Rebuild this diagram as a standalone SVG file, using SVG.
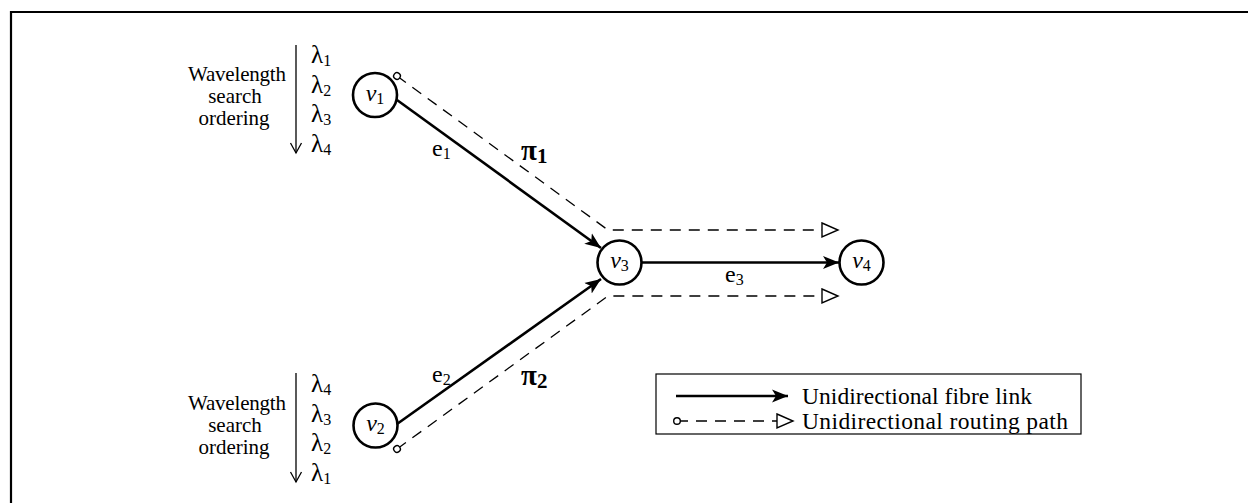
<svg xmlns="http://www.w3.org/2000/svg" width="1248" height="503" viewBox="0 0 1248 503">
  <style>
    text { font-family: "Liberation Serif", "Times New Roman", serif; fill: #000; }
    .node { fill: #fff; stroke: #000; stroke-width: 2.6; }
    .lbl { font-size: 24px; }
    .sub { font-size: 16px; }
    .lam { font-size: 25px; }
    .wl { font-size: 21px; text-anchor: middle; }
    .edge { fill: none; stroke: #000; stroke-width: 2.6; }
    .route { fill: none; stroke: #000; stroke-width: 1.3; stroke-dasharray: 11 8; }
    .order { fill: none; stroke: #000; stroke-width: 1.3; }
    .pi { font-size: 29px; font-weight: bold; }
    .leg { font-size: 23.5px; }
  </style>
  <defs>
    <marker id="arr" markerUnits="userSpaceOnUse" markerWidth="18" markerHeight="14" refX="16" refY="7" orient="auto">
      <path d="M0,0.5 L16,7 L0,13.5 L4,7 Z" fill="#000"/>
    </marker>
    <marker id="tri" markerUnits="userSpaceOnUse" markerWidth="20" markerHeight="18" refX="1" refY="8" orient="auto">
      <path d="M1,1 L17,8 L1,15 Z" fill="#fff" stroke="#000" stroke-width="1.4"/>
    </marker>
    <marker id="dot" markerUnits="userSpaceOnUse" markerWidth="10" markerHeight="10" refX="5" refY="5" orient="auto">
      <circle cx="5" cy="5" r="3.3" fill="#fff" stroke="#000" stroke-width="1.4"/>
    </marker>
    <marker id="chev" markerUnits="userSpaceOnUse" markerWidth="14" markerHeight="14" refX="11" refY="7" orient="auto">
      <path d="M1,1.5 L11,7 L1,12.5" fill="none" stroke="#000" stroke-width="1.3"/>
    </marker>
  </defs>

  <!-- frame -->
  <path d="M11,503 L11,12 L1248,12" fill="none" stroke="#000" stroke-width="2.2"/>

  <!-- wavelength ordering (top) -->
  <g id="order-top">
    <line class="order" x1="296" y1="45" x2="296" y2="153" marker-end="url(#chev)"/>
    <text class="wl" x="237" y="81" textLength="98">Wavelength</text>
    <text class="wl" x="235" y="103">search</text>
    <text class="wl" x="234" y="125">ordering</text>
    <text class="lam" x="311" y="63">λ<tspan class="sub" dy="3">1</tspan></text>
    <text class="lam" x="311" y="93">λ<tspan class="sub" dy="3">2</tspan></text>
    <text class="lam" x="311" y="122">λ<tspan class="sub" dy="3">3</tspan></text>
    <text class="lam" x="311" y="152">λ<tspan class="sub" dy="3">4</tspan></text>
  </g>

  <!-- wavelength ordering (bottom) -->
  <g id="order-bottom">
    <line class="order" x1="296" y1="373" x2="296" y2="482" marker-end="url(#chev)"/>
    <text class="wl" x="237" y="410" textLength="98">Wavelength</text>
    <text class="wl" x="235" y="432">search</text>
    <text class="wl" x="234" y="454">ordering</text>
    <text class="lam" x="311" y="392">λ<tspan class="sub" dy="3">4</tspan></text>
    <text class="lam" x="311" y="422">λ<tspan class="sub" dy="3">3</tspan></text>
    <text class="lam" x="311" y="451">λ<tspan class="sub" dy="3">2</tspan></text>
    <text class="lam" x="311" y="481">λ<tspan class="sub" dy="3">1</tspan></text>
  </g>

  <!-- connectors -->
  <g id="connectors">
    <line class="edge" x1="397" y1="100" x2="601" y2="248" marker-end="url(#arr)"/>
    <line class="edge" x1="397" y1="424" x2="601" y2="279" marker-end="url(#arr)"/>
    <line class="edge" x1="642" y1="262.5" x2="839" y2="262.5" marker-end="url(#arr)"/>
    <path class="route" d="M397,76 L608,230 L822,230" marker-start="url(#dot)" marker-end="url(#tri)"/>
    <path class="route" d="M397,449 L608,296 L822,296" marker-start="url(#dot)" marker-end="url(#tri)"/>
    <text class="lbl" x="432" y="156">e<tspan class="sub" dy="3">1</tspan></text>
    <text class="lbl" x="432" y="382">e<tspan class="sub" dy="3">2</tspan></text>
    <text class="lbl" x="725" y="282">e<tspan class="sub" dy="3">3</tspan></text>
    <text class="pi" x="521" y="160">π<tspan font-size="21" dy="3">1</tspan></text>
    <text class="pi" x="521" y="385">π<tspan font-size="21" dy="3">2</tspan></text>
  </g>

  <!-- nodes -->
  <g id="v1">
    <circle class="node" cx="375" cy="95" r="22"/>
    <text class="lbl" x="375" y="101" text-anchor="middle"><tspan font-style="italic">v</tspan><tspan class="sub" dy="3">1</tspan></text>
  </g>
  <g id="v2">
    <circle class="node" cx="375.5" cy="425.5" r="22"/>
    <text class="lbl" x="375.5" y="431" text-anchor="middle"><tspan font-style="italic">v</tspan><tspan class="sub" dy="3">2</tspan></text>
  </g>
  <g id="v3">
    <circle class="node" cx="619.5" cy="262.5" r="22"/>
    <text class="lbl" x="619.5" y="268" text-anchor="middle"><tspan font-style="italic">v</tspan><tspan class="sub" dy="3">3</tspan></text>
  </g>
  <g id="v4">
    <circle class="node" cx="861.5" cy="262.5" r="22"/>
    <text class="lbl" x="861.5" y="268" text-anchor="middle"><tspan font-style="italic">v</tspan><tspan class="sub" dy="3">4</tspan></text>
  </g>

  <!-- legend -->
  <g id="legend">
    <rect x="656" y="374" width="425" height="60" fill="none" stroke="#000" stroke-width="1.2"/>
    <line class="edge" x1="676" y1="396" x2="788" y2="396" marker-end="url(#arr)"/>
    <text class="leg" x="802" y="404" textLength="230">Unidirectional fibre link</text>
    <line class="route" x1="677" y1="421" x2="777" y2="421" stroke-dasharray="11 7" marker-start="url(#dot)" marker-end="url(#tri)"/>
    <text class="leg" x="802" y="429" textLength="266">Unidirectional routing path</text>
  </g>
</svg>
